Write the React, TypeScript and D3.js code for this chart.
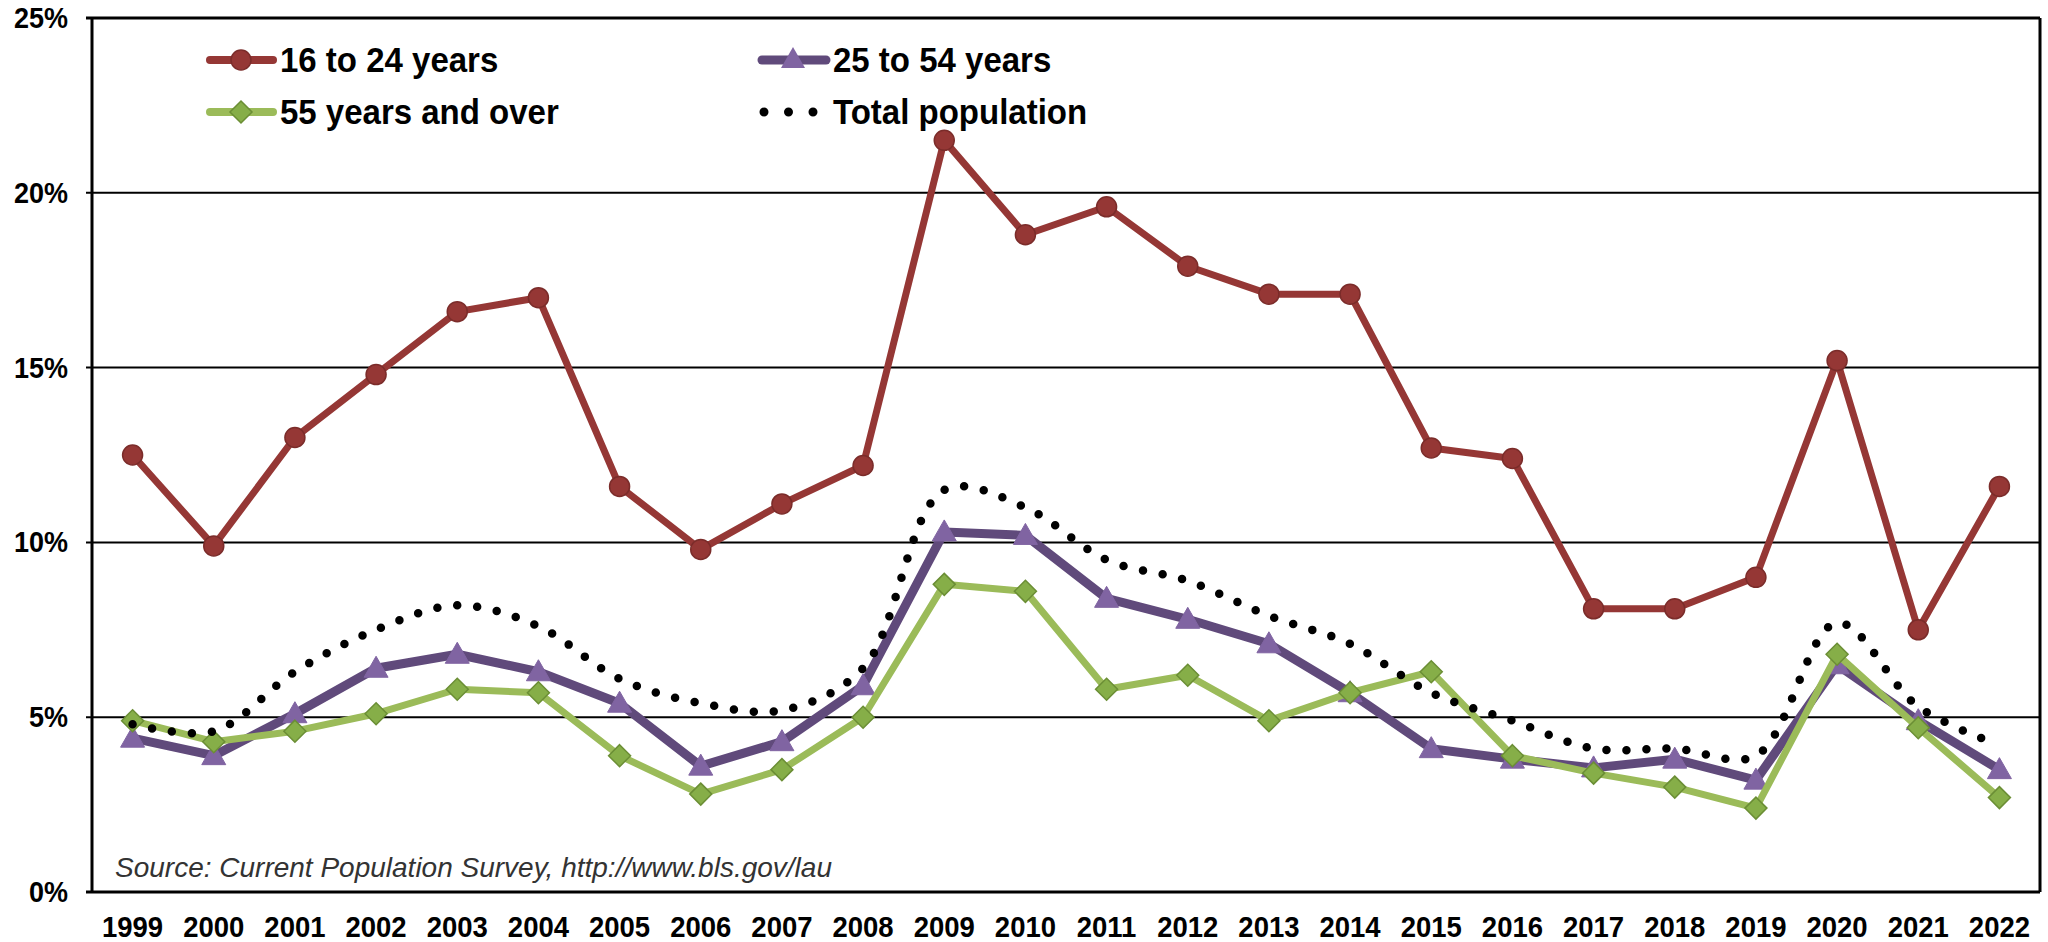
import React from "react";
import * as d3 from "d3";

const years = ["1999","2000","2001","2002","2003","2004","2005","2006","2007","2008","2009","2010","2011","2012","2013","2014","2015","2016","2017","2018","2019","2020","2021","2022"];
const age16to24 = [12.5,9.9,13.0,14.8,16.6,17.0,11.6,9.8,11.1,12.2,21.5,18.8,19.6,17.9,17.1,17.1,12.7,12.4,8.1,8.1,9.0,15.2,7.5,11.6];
const age25to54 = [4.4,3.9,5.1,6.4,6.8,6.3,5.4,3.6,4.3,5.9,10.3,10.2,8.4,7.8,7.1,5.7,4.1,3.8,3.55,3.8,3.2,6.5,4.9,3.5];
const age55plus = [4.9,4.3,4.6,5.1,5.8,5.7,3.9,2.8,3.5,5.0,8.8,8.6,5.8,6.2,4.9,5.7,6.3,3.9,3.4,3.0,2.4,6.8,4.7,2.7];
const totalPop = [4.8,4.6,6.3,7.5,8.2,7.6,6.1,5.4,5.2,6.4,11.5,11.0,9.5,8.9,7.9,7.1,5.7,4.9,4.1,4.1,3.9,7.7,5.3,4.2];
const yTicks = [0,5,10,15,20,25];
const sourceNote = "Source: Current Population Survey, http://www.bls.gov/lau";

const W = 2048, H = 942;
const L = 92, R = 2040, T = 18, B = 892;
const FONT = "'Liberation Sans', Arial, sans-serif";

const RED = "#953735", RED_D = "#7B2C2A";
const PURPLE = "#604A7B", PURPLE_M = "#8064A2";
const GREEN = "#9BBB59", GREEN_M = "#86AE48", GREEN_D = "#6B8E35";

export default function App() {
  const x = d3.scaleBand<string>().domain(years).range([L, R]);
  const cx = (d: string) => (x(d) as number) + x.bandwidth() / 2;
  const y = d3.scaleLinear().domain([0, 25]).range([B, T]);

  const lineStraight = (vals: number[]) =>
    d3.line<number>().x((_, i) => cx(years[i])).y((v) => y(v))(vals) as string;
  const lineSmooth = (vals: number[]) =>
    d3.line<number>().x((_, i) => cx(years[i])).y((v) => y(v)).curve(d3.curveCatmullRom.alpha(0.5))(vals) as string;

  const tri = (px: number, py: number, s = 12) =>
    `M${px},${py - s} L${px + s * 1.0},${py + s * 0.75} L${px - s * 1.0},${py + s * 0.75} Z`;
  const dia = (px: number, py: number, s = 11) =>
    `M${px},${py - s} L${px + s},${py} L${px},${py + s} L${px - s},${py} Z`;

  const legendFont = 33;
  return (
    <svg width={W} height={H} style={{ position: "absolute", left: 0, top: 0, background: "#fff" }}
      fontFamily={FONT}>
      <rect x={0} y={0} width={W} height={H} fill="#fff" />
      {/* gridlines */}
      {yTicks.map((t) => (
        <line key={"g" + t} x1={L - 6} x2={R} y1={y(t)} y2={y(t)} stroke="#000" strokeWidth={t === 0 || t === 25 ? 3 : 2} />
      ))}
      <line x1={L} x2={L} y1={T} y2={B} stroke="#000" strokeWidth={3} />
      <line x1={R} x2={R} y1={T} y2={B} stroke="#000" strokeWidth={3} />
      {/* y labels */}
      {yTicks.map((t) => (
        <text key={"yl" + t} transform={`translate(68,${y(t) + 10}) scale(1,1.1)`} textAnchor="end" fontSize={27} fontWeight="bold" fill="#000">
          {t + "%"}
        </text>
      ))}
      {/* x labels */}
      {years.map((yr) => (
        <text key={"xl" + yr} transform={`translate(${cx(yr)},937) scale(1,1.1)`} textAnchor="middle" fontSize={27.5} fontWeight="bold" fill="#000">
          {yr}
        </text>
      ))}
      {/* source */}
      <text x={115} y={877} fontSize={28} fontStyle="italic" fill="#333">{sourceNote}</text>

      {/* 16-24 */}
      <path d={lineStraight(age16to24)} fill="none" stroke={RED} strokeWidth={7} strokeLinejoin="round" />
      {age16to24.map((v, i) => (
        <circle key={"r" + i} cx={cx(years[i])} cy={y(v)} r={10} fill={RED} stroke={RED_D} strokeWidth={1.5} />
      ))}
      {/* 25-54 */}
      <path d={lineStraight(age25to54)} fill="none" stroke={PURPLE} strokeWidth={9} strokeLinejoin="round" />
      {age25to54.map((v, i) => (
        <path key={"p" + i} d={tri(cx(years[i]), y(v))} fill={PURPLE_M} stroke={PURPLE_M} strokeWidth={1} />
      ))}
      {/* 55+ */}
      <path d={lineStraight(age55plus)} fill="none" stroke={GREEN} strokeWidth={7} strokeLinejoin="round" />
      {age55plus.map((v, i) => (
        <path key={"gm" + i} d={dia(cx(years[i]), y(v))} fill={GREEN_M} stroke={GREEN_D} strokeWidth={1.5} />
      ))}
      {/* total */}
      <path d={lineSmooth(totalPop)} fill="none" stroke="#000" strokeWidth={8.5} strokeLinecap="round" strokeDasharray="0 20" />

      {/* legend */}
      <g>
        <line x1={210} x2={273} y1={60} y2={60} stroke={RED} strokeWidth={8} strokeLinecap="round" />
        <circle cx={241} cy={60} r={10} fill={RED} stroke={RED_D} strokeWidth={1.5} />
        <text transform="translate(280,72) scale(1,1.05)" fontSize={legendFont} fontWeight="bold">16 to 24 years</text>

        <line x1={210} x2={273} y1={112} y2={112} stroke={GREEN} strokeWidth={8} strokeLinecap="round" />
        <path d={dia(241, 112)} fill={GREEN_M} stroke={GREEN_D} strokeWidth={1.5} />
        <text transform="translate(280,124) scale(1,1.05)" fontSize={legendFont} fontWeight="bold">55 years and over</text>

        <line x1={762} x2={826} y1={60} y2={60} stroke={PURPLE} strokeWidth={9} strokeLinecap="round" />
        <path d={tri(793, 59)} fill={PURPLE_M} />
        <text transform="translate(833,72) scale(1,1.05)" fontSize={legendFont} fontWeight="bold">25 to 54 years</text>

        <line x1={764} x2={814} y1={112} y2={112} stroke="#000" strokeWidth={9} strokeLinecap="round" strokeDasharray="0 24.5" />
        <text transform="translate(833,124) scale(1,1.05)" fontSize={legendFont} fontWeight="bold">Total population</text>
      </g>
    </svg>
  );
}
